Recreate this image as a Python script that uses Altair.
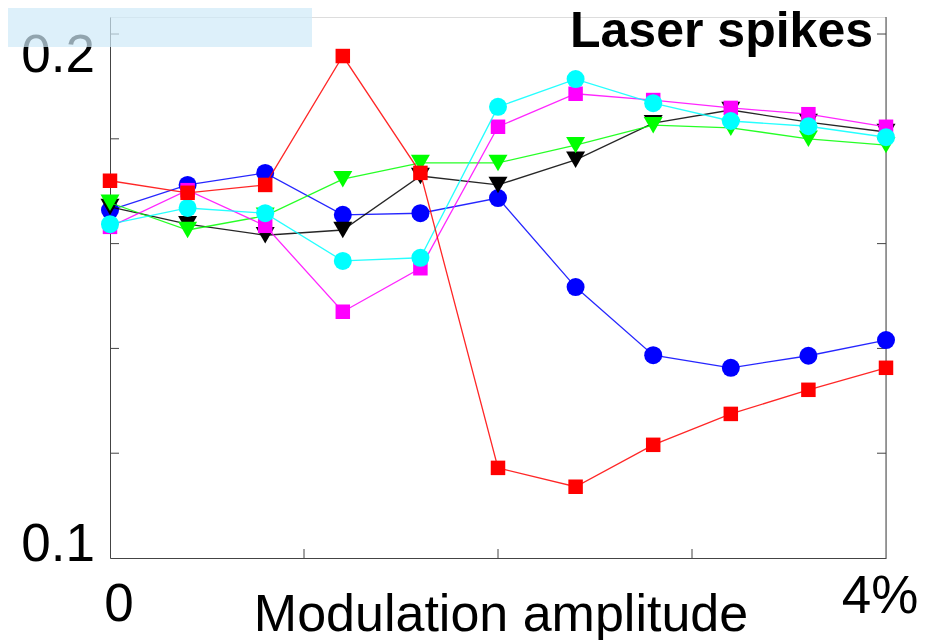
import altair as alt
import pandas as pd

# ---- data ----
x_vals = [0.0, 0.4, 0.8, 1.2, 1.6, 2.0, 2.4, 2.8, 3.2, 3.6, 4.0]

blue = [0.1664, 0.1712, 0.1735, 0.1655, 0.1658, 0.1687, 0.1517, 0.1387, 0.1363, 0.1386, 0.1416]
black = [0.1670, 0.1637, 0.1616, 0.1626, 0.1729, 0.1712, 0.1760, 0.1830, 0.1855, 0.1832, 0.1813]
green = [0.1678, 0.1626, 0.1653, 0.1723, 0.1754, 0.1754, 0.1788, 0.1826, 0.1821, 0.1800, 0.1788]
magenta = [0.1632, 0.1702, 0.1634, 0.1470, 0.1553, 0.1823, 0.1886, 0.1874, 0.1859, 0.1847, 0.1823]
cyan = [0.1637, 0.1668, 0.1658, 0.1567, 0.1573, 0.1861, 0.1914, 0.1868, 0.1834, 0.1824, 0.1803]
red = [0.1720, 0.1697, 0.1712, 0.1958, 0.1735, 0.1172, 0.1136, 0.1216, 0.1275, 0.1321, 0.1363]

series_names = ["blue", "black", "green", "magenta", "cyan", "red"]
series_values = [blue, black, green, magenta, cyan, red]
series_colors = ["#0000ff", "#000000", "#00ff00", "#ff00ff", "#00ffff", "#ff0000"]
series_shapes = ["circle", "triangle-down", "triangle-down", "square", "circle", "square"]
series_sizes = [324, 361, 361, 210, 324, 210]

y_tick_values = [0.12, 0.14, 0.16, 0.18, 0.2]
x_tick_values = [1, 2, 3]
y_label_values = [0.1, 0.2]
y_label_text = ["0.1", "0.2"]
x_label_values = [0, 4]
x_label_text = ["0", "4%"]
x_title = "Modulation amplitude"
panel_title = "Laser spikes"

W, H = 776, 541
FONT = "Liberation Sans"
AXIS_COLOR = "#444444"

xscale = alt.Scale(domain=[0, 4], nice=False, zero=False)
yscale = alt.Scale(domain=[0.1, 0.20325], nice=False, zero=False)
xaxis = alt.Axis(grid=False, ticks=False, labels=False, title=None,
                 domainColor=AXIS_COLOR, domainWidth=1)
yaxis = alt.Axis(grid=False, ticks=False, labels=False, title=None,
                 domainColor=AXIS_COLOR, domainWidth=1)

layers = []

# inward ticks
ytick_df = pd.DataFrame({"v": y_tick_values})
xtick_df = pd.DataFrame({"u": x_tick_values})
layers.append(alt.Chart(ytick_df).mark_rule(color=AXIS_COLOR, strokeWidth=1).encode(
    y=alt.Y("v:Q", scale=yscale, axis=yaxis), x=alt.value(0), x2=alt.value(9)))
layers.append(alt.Chart(ytick_df).mark_rule(color=AXIS_COLOR, strokeWidth=1).encode(
    y=alt.Y("v:Q", scale=yscale, axis=yaxis), x=alt.value(W - 9), x2=alt.value(W)))
layers.append(alt.Chart(xtick_df).mark_rule(color=AXIS_COLOR, strokeWidth=1).encode(
    x=alt.X("u:Q", scale=xscale, axis=xaxis), y=alt.value(H), y2=alt.value(H - 9)))

# right frame line
one = pd.DataFrame({"k": [0]})
layers.append(alt.Chart(one).mark_rule(color=AXIS_COLOR, strokeWidth=1).encode(
    x=alt.value(W), y=alt.value(0), y2=alt.value(H)))

# series
for name, vals, col, shp, sz in zip(series_names, series_values, series_colors,
                                    series_shapes, series_sizes):
    df = pd.DataFrame({"x": x_vals, "y": vals})
    base = alt.Chart(df).encode(
        x=alt.X("x:Q", scale=xscale, axis=xaxis),
        y=alt.Y("y:Q", scale=yscale, axis=yaxis),
    )
    layers.append(base.mark_line(color=col, strokeWidth=1.3, opacity=0.85))
    layers.append(base.mark_point(shape=shp, size=sz, filled=True, color=col,
                                  opacity=1, strokeWidth=0))

# y tick labels
y_dys = [3, 38]
for v, t, dy in zip(y_label_values, y_label_text, y_dys):
    df = pd.DataFrame({"v": [v], "t": [t]})
    layers.append(alt.Chart(df).mark_text(font=FONT, fontSize=53, color="black",
                                          align="right", baseline="alphabetic",
                                          dx=-15, dy=dy).encode(
        y=alt.Y("v:Q", scale=yscale, axis=yaxis), x=alt.value(0), text="t:N"))

# x tick labels
x_dxs = [9, -6]
x_ys = [H + 63, H + 55]
for v, t, dx, yy in zip(x_label_values, x_label_text, x_dxs, x_ys):
    df = pd.DataFrame({"u": [v], "t": [t]})
    layers.append(alt.Chart(df).mark_text(font=FONT, fontSize=53, color="black",
                                          align="center", baseline="alphabetic",
                                          dx=dx).encode(
        x=alt.X("u:Q", scale=xscale, axis=xaxis), y=alt.value(yy), text="t:N"))

# x title
title_df = pd.DataFrame({"t": [x_title]})
layers.append(alt.Chart(title_df).mark_text(font=FONT, fontSize=52, color="black",
                                            align="center", baseline="alphabetic").encode(
    x=alt.value(391), y=alt.value(614), text="t:N"))

# panel label
pt_df = pd.DataFrame({"t": [panel_title]})
layers.append(alt.Chart(pt_df).mark_text(font=FONT, fontSize=50, fontWeight="bold",
                                         color="black", align="right",
                                         baseline="alphabetic").encode(
    x=alt.value(W - 13), y=alt.value(30), text="t:N"))

# light blue box at top-left
layers.append(alt.Chart(one).mark_rect(color="#cfe9f8", opacity=0.7).encode(
    x=alt.value(-102), x2=alt.value(202), y=alt.value(-9), y2=alt.value(30)))

chart = alt.layer(*layers).properties(
    width=W, height=H,
    padding={"left": 102, "top": 9, "right": 34, "bottom": 82},
    autosize=alt.AutoSizeParams(type="none"),
).configure_view(stroke=None).configure(background="white")

chart.save("out.html", embed_options={"renderer": "svg", "actions": False})
